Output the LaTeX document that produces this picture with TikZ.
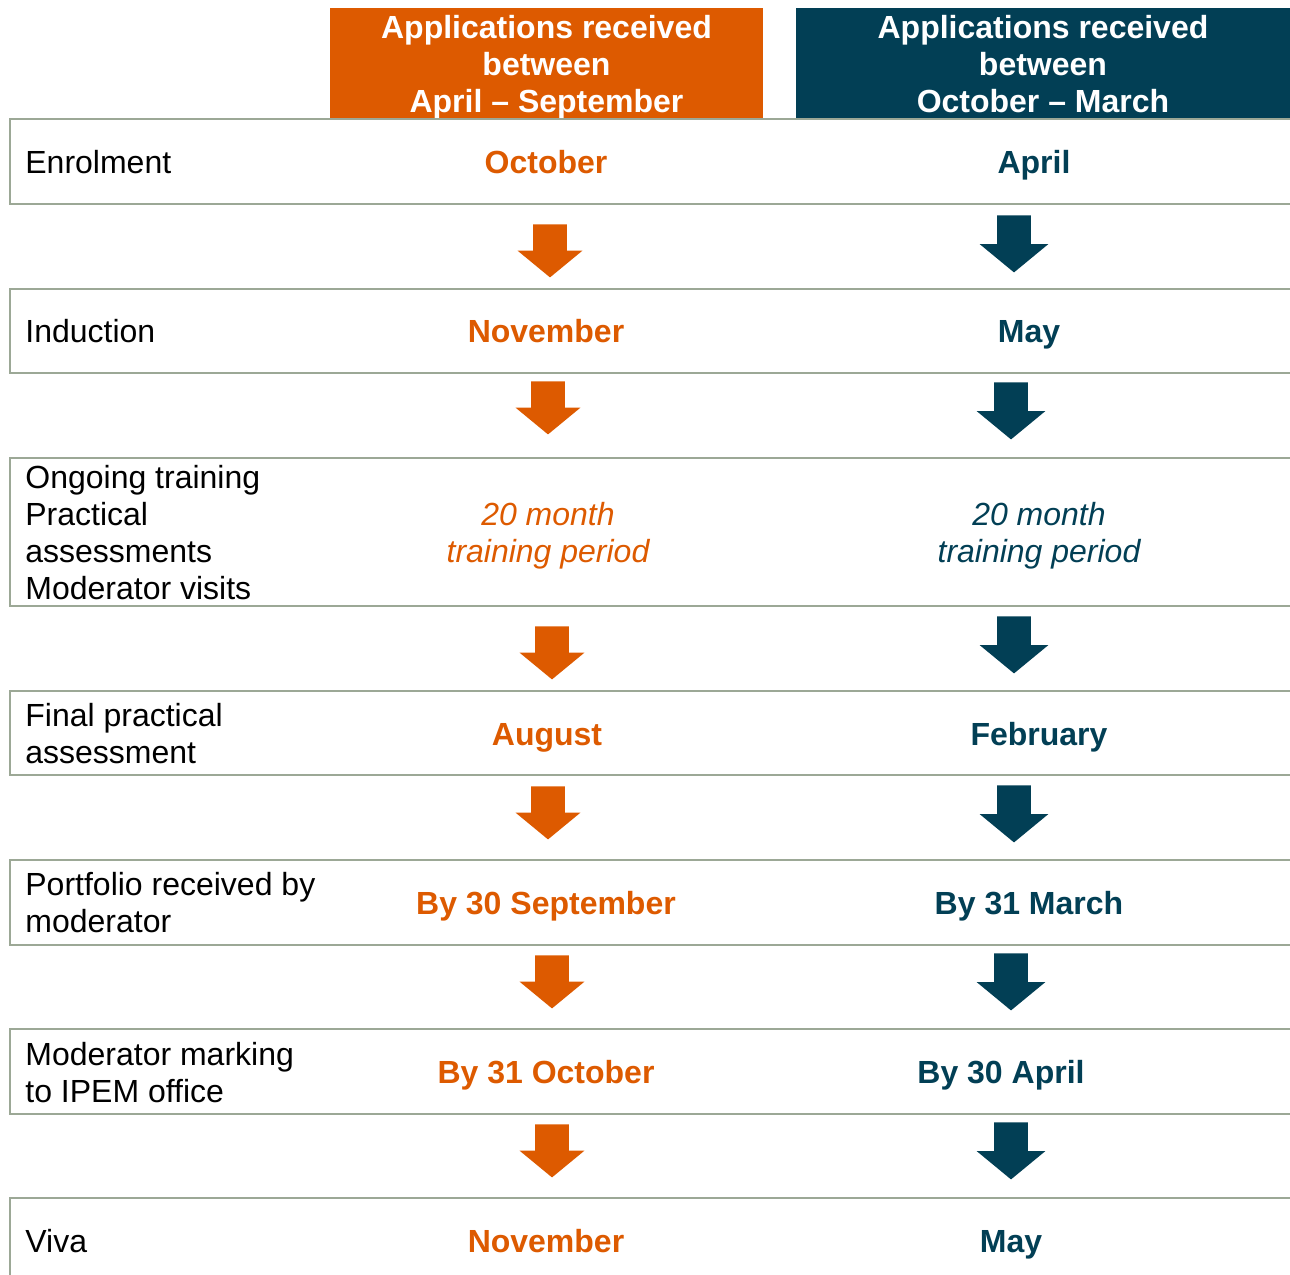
\documentclass[tikz,border=0pt]{standalone}
\usepackage{fontspec}
\setmainfont{Liberation Sans}
\usetikzlibrary{shapes.arrows,positioning}

\definecolor{ipemorange}{HTML}{DD5A00}
\definecolor{ipemteal}{HTML}{023F55}
\definecolor{rowgrey}{HTML}{9CA896}

\begin{document}
\begin{tikzpicture}
        [x=0.5pt, y=-0.5pt,
         every node/.style={inner sep=0pt, font=\fontsize{16}{18.5}\selectfont},
         row/.style={draw=rowgrey, line width=1pt},
         hdrbox/.style={minimum height=55pt},
         hdrtext/.style={text=white, align=center, text depth=0pt,
                         font=\fontsize{16}{18.5}\selectfont\bfseries},
         stage/.style={anchor=west, align=left},
         early/.style={text=ipemorange, text depth=0pt, font=\fontsize{16}{18.5}\selectfont\bfseries},
         late/.style={text=ipemteal, text depth=0pt, font=\fontsize{16}{18.5}\selectfont\bfseries},
         span/.style={align=center, text depth=0pt, font=\fontsize{16}{18.5}\selectfont\itshape},
         arrbase/.style={single arrow, anchor=tail, shape border rotate=270,
                         single arrow tip angle=101, draw=none, inner sep=8.25pt},
         arrO/.style={arrbase, fill=ipemorange, minimum height=26.5pt,
                      minimum width=32pt, single arrow head extend=7.75pt},
         arrT/.style={arrbase, fill=ipemteal, minimum height=28.5pt,
                      minimum width=34pt, single arrow head extend=8.75pt}]

        \clip (0,0) rectangle (1290,1274);

        % column headers
        \node[hdrbox, fill=ipemorange, minimum width=216.5pt] (hdrEarly) at (546.5,63) {};
        \node[hdrbox, fill=ipemteal, minimum width=247pt] (hdrLate) at (1043,63) {};
        \node[hdrtext] (hdrEarlyTxt) at (546.5,63.5) {Applications received\\between\\April – September};
        \node[hdrtext] (hdrLateTxt) at (1043,63.5) {Applications received\\between\\October – March};

        % stage rows
        \draw[row] (10,119) rectangle (1310,204);
        \draw[row] (10,289) rectangle (1310,373);
        \draw[row] (10,458) rectangle (1310,606);
        \draw[row] (10,691) rectangle (1310,775);
        \draw[row] (10,860) rectangle (1310,945);
        \draw[row] (10,1029) rectangle (1310,1114);
        \draw[row] (10,1198) rectangle (1310,1300);

        \node[stage] (enrol) at (25,162) {Enrolment};
        \node[early] (enrolE) at (546,162) {October};
        \node[late] (enrolL) at (1034,162) {April};

        \node[stage] (induct) at (25,331) {Induction};
        \node[early] (inductE) at (546,331) {November};
        \node[late] (inductL) at (1029,331) {May};

        \node[stage] (train) at (25,532.5) {Ongoing training\\Practical\\assessments\\Moderator visits};
        \node[span, text=ipemorange] (trainE) at (548,532.5) {20 month\\training period};
        \node[span, text=ipemteal] (trainL) at (1039,532.5) {20 month\\training period};

        \node[stage] (final) at (25,733.5) {Final practical\\assessment};
        \node[early] (finalE) at (547,734) {August};
        \node[late] (finalL) at (1039,734) {February};

        \node[stage] (portf) at (25,903) {Portfolio received by\\moderator};
        \node[early] (portfE) at (546,903) {By 30 September};
        \node[late] (portfL) at (1029,903) {By 31 March};

        \node[stage] (marking) at (25,1072.5) {Moderator marking\\to IPEM office};
        \node[early] (markingE) at (546,1072) {By 31 October};
        \node[late] (markingL) at (1001,1072) {By 30 April};

        \node[stage] (viva) at (25,1241) {Viva};
        \node[early] (vivaE) at (546,1241) {November};
        \node[late] (vivaL) at (1011,1241) {May};

        % down arrows between the rows
        \node[arrO] (a1) at (550,224) {};
        \node[arrO] (a2) at (548,381) {};
        \node[arrO] (a3) at (552,626) {};
        \node[arrO] (a4) at (548,786) {};
        \node[arrO] (a5) at (552,955) {};
        \node[arrO] (a6) at (552,1124) {};

        \node[arrT] (b1) at (1014,215) {};
        \node[arrT] (b2) at (1011,382) {};
        \node[arrT] (b3) at (1014,616) {};
        \node[arrT] (b4) at (1014,785) {};
        \node[arrT] (b5) at (1011,953) {};
        \node[arrT] (b6) at (1011,1122) {};
\end{tikzpicture}
\end{document}
